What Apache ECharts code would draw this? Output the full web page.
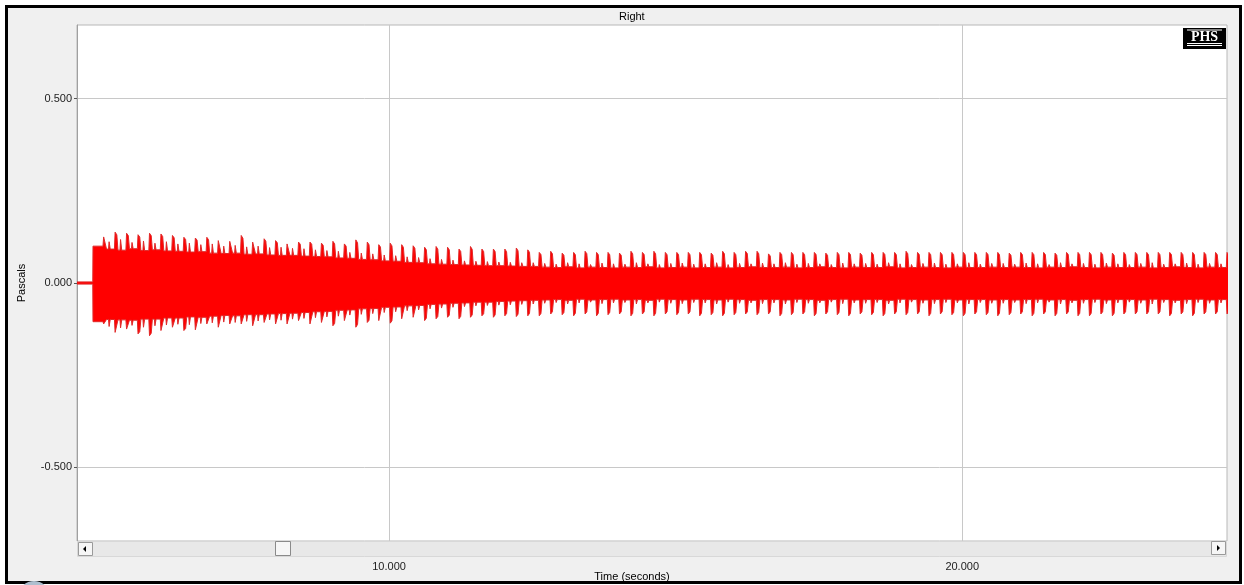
<!DOCTYPE html>
<html><head><meta charset="utf-8">
<script src="https://cdn.jsdelivr.net/npm/echarts@6/dist/echarts.min.js"></script>
<style>html,body{margin:0;padding:0;background:#fff;overflow:hidden}#c{width:1244px;height:585px}</style>
</head><body><div id="c"></div>
<script>
// ---------- data ----------
const chartTitle = 'Right';
const xAxisName = 'Time (seconds)';
const yAxisName = 'Pascals';
const xTickValues = [10, 20];
const yTickValues = [-0.5, 0, 0.5];
const xRange = [4.555, 24.62];
const yRange = [-0.7, 0.7];
const silence = [4.555, 4.83];          // flat zero before the signal starts
const onsetUpper = 0.100;
const onsetLower = -0.105;
const spikeTime = [
  5.02,5.22,5.42,5.62,5.82,6.02,6.22,6.42,6.62,6.82,7.02,7.22,7.42,7.62,7.82,8.02,8.22,8.42,
  8.62,8.82,9.02,9.22,9.42,9.62,9.82,10.02,10.22,10.42,10.62,10.82,11.02,11.22,11.42,11.62,11.82,12.02,12.22,12.42,
  12.62,12.82,13.02,13.22,13.42,13.62,13.82,14.02,14.22,14.42,14.62,14.82,15.02,15.22,15.42,15.62,15.82,16.02,16.22,16.42,
  16.62,16.82,17.02,17.22,17.42,17.62,17.82,18.02,18.22,18.42,18.62,18.82,19.02,19.22,19.42,19.62,19.82,20.02,20.22,20.42,
  20.62,20.82,21.02,21.22,21.42,21.62,21.82,22.02,22.22,22.42,22.62,22.82,23.02,23.22,23.42,23.62,23.82,24.02,24.22,24.42,
  24.62
];
const peakUpper = [
  0.125,0.138,0.135,0.131,0.135,0.133,0.129,0.124,0.122,0.124,0.115,0.113,0.129,0.111,0.120,0.115,0.106,0.111,
  0.111,0.108,0.113,0.106,0.117,0.111,0.104,0.108,0.104,0.101,0.097,0.099,0.097,0.092,0.099,0.092,0.092,0.092,0.095,0.090,
  0.083,0.086,0.081,0.083,0.086,0.083,0.083,0.081,0.086,0.083,0.086,0.083,0.083,0.083,0.083,0.081,0.086,0.083,0.086,0.086,
  0.079,0.083,0.083,0.083,0.083,0.081,0.083,0.083,0.081,0.083,0.083,0.083,0.086,0.083,0.083,0.083,0.083,0.083,0.083,0.083,
  0.083,0.081,0.083,0.083,0.083,0.081,0.083,0.083,0.083,0.083,0.081,0.083,0.083,0.083,0.083,0.083,0.083,0.083,0.083,0.083,
  0.083
];
const peakLower = [
  -0.111,-0.134,-0.125,-0.138,-0.143,-0.129,-0.120,-0.129,-0.127,-0.111,-0.120,-0.111,-0.111,-0.116,-0.107,-0.111,-0.111,-0.102,
  -0.111,-0.107,-0.116,-0.102,-0.120,-0.107,-0.102,-0.109,-0.097,-0.093,-0.102,-0.097,-0.093,-0.097,-0.093,-0.089,-0.093,-0.089,-0.091,-0.089,
  -0.089,-0.084,-0.086,-0.089,-0.084,-0.089,-0.086,-0.084,-0.089,-0.084,-0.089,-0.084,-0.086,-0.084,-0.089,-0.086,-0.089,-0.086,-0.084,-0.086,
  -0.084,-0.089,-0.086,-0.084,-0.089,-0.084,-0.086,-0.089,-0.084,-0.086,-0.089,-0.084,-0.086,-0.084,-0.089,-0.084,-0.086,-0.089,-0.084,-0.086,
  -0.089,-0.086,-0.084,-0.089,-0.084,-0.089,-0.084,-0.089,-0.089,-0.084,-0.089,-0.084,-0.084,-0.084,-0.084,-0.089,-0.084,-0.089,-0.084,-0.084,
  -0.084
];
const bodyUpper = [
  0.092,0.089,0.093,0.088,0.090,0.087,0.086,0.084,0.085,0.081,0.080,0.081,0.078,0.079,0.076,0.075,0.075,0.073,
  0.072,0.071,0.068,0.067,0.064,0.063,0.060,0.059,0.056,0.055,0.052,0.051,0.050,0.049,0.048,0.047,0.047,0.046,0.045,0.045,
  0.043,0.042,0.044,0.041,0.043,0.042,0.041,0.043,0.042,0.044,0.041,0.042,0.043,0.041,0.042,0.043,0.041,0.042,0.044,0.042,
  0.042,0.043,0.041,0.042,0.044,0.042,0.041,0.043,0.042,0.042,0.044,0.041,0.042,0.043,0.042,0.041,0.043,0.042,0.042,0.043,
  0.042,0.043,0.042,0.041,0.043,0.042,0.044,0.042,0.041,0.043,0.042,0.042,0.043,0.041,0.042,0.044,0.042,0.041,0.043,0.042,
  0.042
];
const bodyLower = [
  -0.099,-0.100,-0.101,-0.098,-0.098,-0.095,-0.095,-0.092,-0.093,-0.090,-0.088,-0.089,-0.086,-0.086,-0.084,-0.083,-0.082,-0.080,
  -0.078,-0.077,-0.074,-0.073,-0.070,-0.069,-0.066,-0.065,-0.062,-0.061,-0.058,-0.057,-0.055,-0.054,-0.052,-0.052,-0.050,-0.049,-0.048,-0.047,
  -0.046,-0.045,-0.047,-0.044,-0.046,-0.045,-0.044,-0.046,-0.045,-0.047,-0.044,-0.045,-0.046,-0.044,-0.045,-0.046,-0.044,-0.045,-0.047,-0.045,
  -0.045,-0.046,-0.044,-0.045,-0.047,-0.045,-0.044,-0.046,-0.045,-0.045,-0.047,-0.044,-0.045,-0.046,-0.045,-0.044,-0.046,-0.045,-0.045,-0.046,
  -0.045,-0.046,-0.045,-0.044,-0.046,-0.045,-0.047,-0.045,-0.044,-0.046,-0.045,-0.045,-0.046,-0.044,-0.045,-0.047,-0.045,-0.044,-0.046,-0.045,
  -0.045
];
// secondary (smaller) peak inside each period
const bumpUpper = [
  0.112,0.118,0.110,0.114,0.108,0.112,0.106,0.108,0.104,0.106,0.100,0.102,0.098,0.100,0.096,0.097,0.094,0.093,
  0.090,0.088,0.086,0.083,0.081,0.079,0.076,0.074,0.071,0.069,0.066,0.064,0.062,0.060,0.059,0.058,0.057,0.056,0.055,0.055,
  0.053,0.051,0.055,0.052,0.050,0.054,0.052,0.051,0.055,0.052,0.050,0.053,0.054,0.051,0.052,0.055,0.050,0.053,0.052,0.054,
  0.052,0.055,0.051,0.053,0.052,0.050,0.054,0.052,0.053,0.051,0.055,0.052,0.050,0.053,0.054,0.051,0.052,0.055,0.051,0.053,
  0.053,0.051,0.054,0.052,0.050,0.055,0.052,0.053,0.051,0.054,0.052,0.050,0.053,0.055,0.051,0.052,0.054,0.051,0.053,0.052,
  0.052
];
const bumpLower = [
  -0.118,-0.122,-0.115,-0.120,-0.116,-0.114,-0.112,-0.113,-0.110,-0.108,-0.106,-0.107,-0.104,-0.103,-0.100,-0.101,-0.098,-0.096,
  -0.094,-0.092,-0.090,-0.087,-0.085,-0.083,-0.080,-0.078,-0.075,-0.073,-0.070,-0.068,-0.066,-0.064,-0.062,-0.061,-0.060,-0.059,-0.058,-0.057,
  -0.055,-0.053,-0.057,-0.054,-0.052,-0.056,-0.054,-0.053,-0.057,-0.054,-0.052,-0.055,-0.056,-0.053,-0.054,-0.057,-0.052,-0.055,-0.054,-0.056,
  -0.054,-0.057,-0.053,-0.055,-0.054,-0.052,-0.056,-0.054,-0.055,-0.053,-0.057,-0.054,-0.052,-0.055,-0.056,-0.053,-0.054,-0.057,-0.053,-0.055,
  -0.055,-0.053,-0.056,-0.054,-0.052,-0.057,-0.054,-0.055,-0.053,-0.056,-0.054,-0.052,-0.055,-0.057,-0.053,-0.054,-0.056,-0.053,-0.055,-0.054,
  -0.054
];

// ---------- build envelope polylines from the per-spike readings ----------
function buildEnvelope(peaks, bodies, bumps, onsetLevel, sign) {
  const eps = 0.003 * sign;
  const pts = [[silence[0], eps], [silence[1], eps], [silence[1] + 0.004, onsetLevel]];
  let prev = onsetLevel;
  for (let i = 0; i < spikeTime.length; i++) {
    const t = spikeTime[i], p = peaks[i], b = bodies[i], q = bumps[i];
    pts.push(
      [t - 0.012, prev], [t, p], [t + 0.03, p - (p - b) * 0.15], [t + 0.05, b],
      [t + 0.085, b], [t + 0.095, q], [t + 0.115, b]
    );
    prev = b;
  }
  return pts;
}
const upperPts = buildEnvelope(peakUpper, bodyUpper, bumpUpper, onsetUpper, 1);
const lowerPts = buildEnvelope(peakLower, bodyLower, bumpLower, onsetLower, -1);

const FONT = '"Liberation Sans", Arial, sans-serif';
const chart = echarts.init(document.getElementById('c'), null, {renderer: 'canvas'});
const waveSeries = (name, data) => ({
  name, type: 'line', data, symbol: 'none', showSymbol: false, animation: false,
  lineStyle: {color: '#e02a2a', width: 1},
  areaStyle: {color: '#ff0000', opacity: 1},
  z: 3, silent: true
});

chart.setOption({
  backgroundColor: '#ffffff',
  animation: false,
  title: {
    text: chartTitle, left: 619, top: 11, padding: 0,
    textStyle: {fontSize: 11, fontWeight: 'normal', color: '#000', fontFamily: FONT}
  },
  grid: {
    left: 77, right: 17, top: 25, bottom: 44,
    outerBoundsMode: 'none', containLabel: false,
    show: true, backgroundColor: '#ffffff', borderColor: '#b8b8b8', borderWidth: 1
  },
  xAxis: {
    type: 'value', min: xRange[0], max: xRange[1], offset: 16,
    name: xAxisName, nameLocation: 'middle', nameGap: 14, nameMoveOverlap: false,
    nameTextStyle: {fontSize: 11, color: '#000', fontFamily: FONT, padding: [0, 40, 0, 0]},
    axisLine: {show: true, lineStyle: {color: '#a8a8a8'}},
    axisTick: {show: true, length: 3, lineStyle: {color: '#555'}, customValues: xTickValues},
    axisLabel: {customValues: xTickValues, formatter: v => v.toFixed(3), fontSize: 11, color: '#222', fontFamily: FONT, margin: 4},
    splitLine: {show: true, lineStyle: {color: '#c8c8c8', width: 1}}
  },
  yAxis: {
    type: 'value', min: yRange[0], max: yRange[1],
    name: yAxisName, nameLocation: 'middle', nameGap: 50, nameRotate: 90, nameMoveOverlap: false,
    nameTextStyle: {fontSize: 11, color: '#000', fontFamily: FONT},
    axisLine: {show: true, lineStyle: {color: '#a0a0a0'}},
    axisTick: {show: true, length: 3, lineStyle: {color: '#555'}, customValues: yTickValues},
    axisLabel: {customValues: yTickValues, formatter: v => v.toFixed(3), fontSize: 11, color: '#222', fontFamily: FONT, margin: 5},
    splitLine: {show: true, lineStyle: {color: '#c8c8c8', width: 1}}
  },
  series: [waveSeries('upper', upperPts), waveSeries('lower', lowerPts)],
  graphic: [
    {type: 'rect', z: -10, silent: true,
     shape: {x: 6.5, y: 6.5, width: 1234, height: 576},
     style: {fill: '#f0f0f0', stroke: '#000', lineWidth: 3}},
    {type: 'rect', z: 5, silent: true,
     shape: {x: 77.5, y: 541.5, width: 1149, height: 15},
     style: {fill: '#e8e8e8', stroke: '#d8d8d8', lineWidth: 1}},
    {type: 'rect', z: 6, silent: true,
     shape: {x: 78.5, y: 542.5, width: 14, height: 13},
     style: {fill: '#f6f6f6', stroke: '#9a9a9a', lineWidth: 1}},
    {type: 'polygon', z: 7, silent: true,
     shape: {points: [[83, 549], [86, 546], [86, 552]]}, style: {fill: '#000'}},
    {type: 'rect', z: 6, silent: true,
     shape: {x: 275.5, y: 541.5, width: 15, height: 14},
     style: {fill: '#f6f6f6', stroke: '#8a8a8a', lineWidth: 1}},
    {type: 'rect', z: 6, silent: true,
     shape: {x: 1211.5, y: 541.5, width: 14, height: 13},
     style: {fill: '#f6f6f6', stroke: '#9a9a9a', lineWidth: 1}},
    {type: 'polygon', z: 7, silent: true,
     shape: {points: [[1220, 548], [1217, 545], [1217, 551]]}, style: {fill: '#000'}},
    {type: 'rect', z: 10, silent: true,
     shape: {x: 1183, y: 28, width: 43, height: 21}, style: {fill: '#000'}},
    {type: 'text', z: 11, silent: true, x: 1204.5, y: 37,
     style: {text: 'PHS', fill: '#fff', font: 'bold 14px "Liberation Serif", "DejaVu Serif", serif', align: 'center', verticalAlign: 'middle'}},
    {type: 'line', z: 11, silent: true, shape: {x1: 1187, y1: 30, x2: 1222, y2: 30}, style: {stroke: '#fff', lineWidth: 1}},
    {type: 'line', z: 11, silent: true, shape: {x1: 1187, y1: 43.5, x2: 1222, y2: 43.5}, style: {stroke: '#fff', lineWidth: 1}},
    {type: 'line', z: 11, silent: true, shape: {x1: 1187, y1: 45.5, x2: 1222, y2: 45.5}, style: {stroke: '#fff', lineWidth: 1}},
    {type: 'circle', z: 12, silent: true, shape: {cx: 34, cy: 597, r: 16}, style: {fill: '#aebfcf'}}
  ]
});
</script>
</body></html>
